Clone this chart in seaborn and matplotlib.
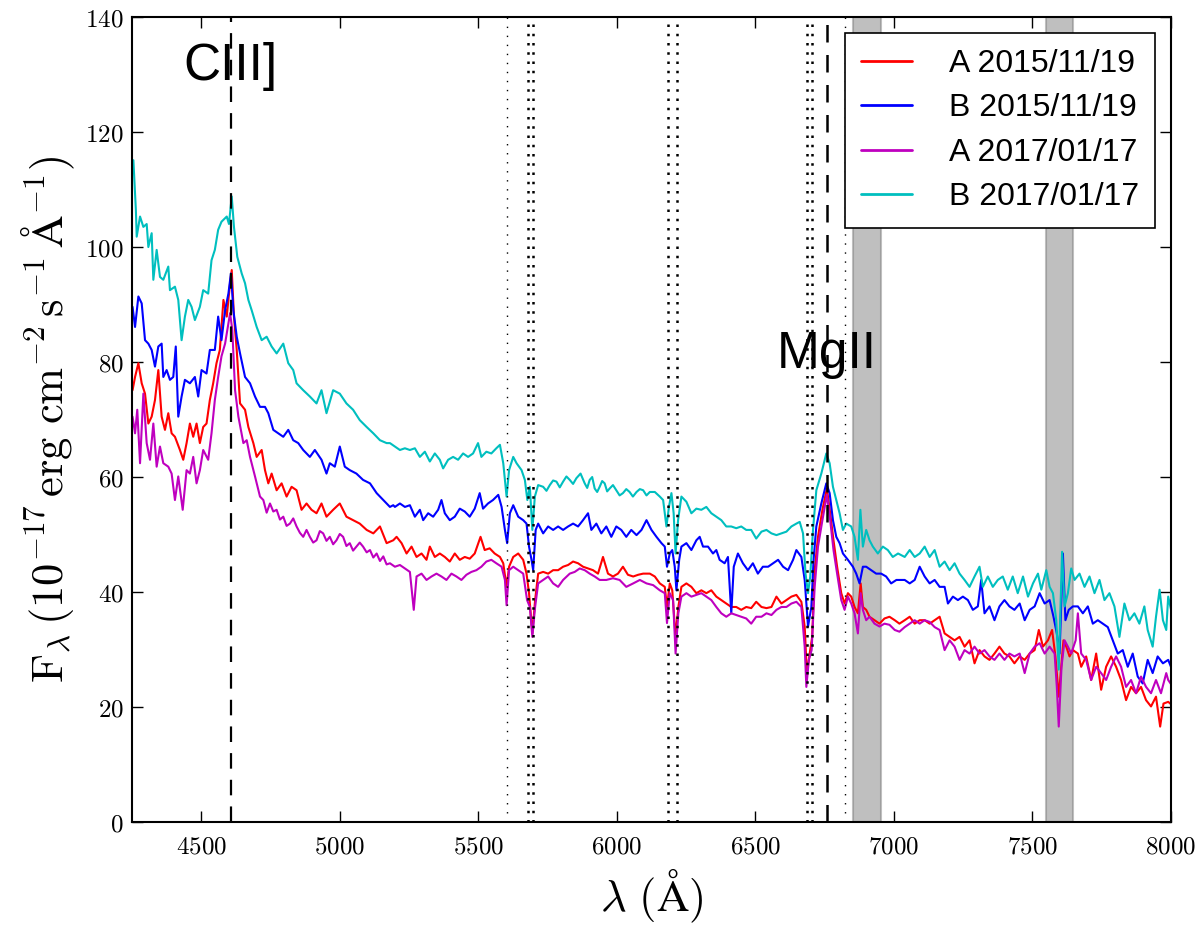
import numpy as np
import pandas as pd
import matplotlib
matplotlib.use('Agg')
import matplotlib.pyplot as plt
import seaborn as sns

sns.set_style('ticks')
plt.rcParams['font.family'] = ['Liberation Sans', 'DejaVu Sans']
plt.rcParams['mathtext.fontset'] = 'cm'
plt.rcParams['text.color'] = 'k'
plt.rcParams['axes.labelcolor'] = 'k'
plt.rcParams['xtick.color'] = 'k'
plt.rcParams['ytick.color'] = 'k'

# ---------------- data ----------------
wave_A15 = [4252, 4261, 4273, 4285, 4297, 4309, 4321, 4333, 4345, 4357, 4369, 4381, 4393, 4405, 4423, 4435, 4447, 4459, 4471, 4483,
            4495, 4507, 4519, 4531, 4543, 4555, 4567, 4580, 4592, 4604, 4610, 4618, 4628, 4640, 4658, 4670, 4688, 4700, 4718, 4730,
            4742, 4754, 4772, 4790, 4808, 4826, 4844, 4862, 4880, 4898, 4916, 4934, 4952, 4976, 5000, 5024, 5048, 5072, 5097, 5121,
            5145, 5169, 5193,
            5205, 5223, 5241, 5259, 5277, 5295, 5313, 5325, 5343, 5361, 5379, 5397, 5415, 5433, 5451, 5469, 5487, 5508, 5523, 5541,
            5559, 5578, 5590, 5602, 5611, 5626, 5644, 5662, 5674, 5683, 5695, 5705, 5716, 5734, 5752, 5770, 5788, 5806, 5824, 5842,
            5860, 5878, 5896, 5914, 5932, 5950, 5968, 5986, 6004, 6022, 6040, 6059, 6077, 6095, 6119,
            6137, 6155, 6173, 6181, 6191, 6200, 6212, 6222, 6233, 6251, 6269, 6287, 6305, 6323, 6341, 6359, 6377, 6395, 6413, 6431,
            6449, 6467, 6485, 6503, 6522, 6540, 6558, 6576, 6594, 6612, 6630, 6648, 6666, 6678, 6686, 6696, 6705, 6714, 6726, 6742,
            6758, 6770, 6782, 6795, 6810, 6822, 6834, 6846, 6858, 6870, 6880, 6888, 6900, 6912, 6930, 6948, 6966, 6984, 7003, 7020,
            7039, 7057, 7075, 7093, 7111, 7129, 7147, 7165, 7183, 7201, 7219, 7237, 7255, 7273, 7291, 7309, 7327, 7345, 7363, 7381,
            7399, 7417, 7435, 7454, 7472, 7490, 7508, 7523, 7538, 7556, 7571, 7583, 7595, 7604, 7612, 7622, 7634, 7646, 7664, 7676,
            7694, 7712, 7730, 7748, 7766, 7784, 7802, 7820, 7838, 7856, 7874, 7892, 7910, 7928, 7946, 7961, 7973, 7990, 8000]
flux_A15 = [75.1, 77.4, 79.8, 76.3, 74.5, 69.3, 70.5, 73.4, 78.6, 70.5, 68.2, 71.1, 67.6, 67.0, 64.7, 63.0, 65.9, 69.3, 67.0, 69.3,
            65.9, 68.7, 69.3, 73.4, 76.3, 79.8, 82.1, 90.8, 87.9, 93.7, 96.0, 87.9, 82.1, 72.8, 71.7, 68.7, 65.9, 63.5, 64.7, 61.2,
            58.9, 60.6, 57.7, 58.9, 56.6, 58.3, 57.7, 54.3, 55.4, 54.3, 53.7, 55.4, 53.1, 54.3, 55.4, 53.1, 52.5, 51.9, 50.8, 50.2,
            51.4, 48.5, 49.0,
            49.6, 48.5, 46.7, 47.9, 46.1, 46.7, 45.6, 47.9, 46.1, 46.7, 46.1, 45.3, 46.7, 45.6, 46.1, 45.8, 46.7, 49.6, 47.3, 47.6,
            46.7, 46.1, 45.0, 40.9, 44.4, 46.1, 46.7, 45.6, 43.2, 39.8, 32.8, 38.6, 43.2, 43.5, 43.2, 43.8, 43.8, 44.4, 44.7, 45.3,
            45.0, 44.4, 44.1, 43.8, 43.2, 46.1, 43.2, 42.7, 43.2, 44.4, 43.0, 42.7, 43.0, 43.2, 43.2,
            42.7, 41.5, 40.9, 37.4, 41.5, 40.3, 32.2, 37.4, 40.9, 41.5, 40.9, 39.8, 40.3, 39.8, 40.3, 39.2, 38.6, 38.0, 37.4, 37.4,
            36.9, 37.4, 37.2, 38.3, 37.4, 37.2, 37.4, 39.2, 38.0, 38.6, 39.2, 39.5, 38.3, 34.0, 25.8, 29.3, 32.2, 43.8, 49.6, 54.3,
            58.0, 53.7, 49.0, 44.4, 39.8, 38.0, 39.8, 39.2, 37.4, 36.3, 41.5, 37.4, 36.9, 35.7, 35.1, 34.5, 35.4, 35.7, 35.1, 34.5,
            35.1, 35.7, 34.5, 35.1, 35.1, 34.5, 35.1, 35.7, 32.8, 32.2, 31.6, 32.2, 30.5, 31.6, 27.6, 29.9, 28.8, 28.2, 29.3, 30.5,
            29.3, 28.8, 27.6, 28.8, 28.2, 29.3, 29.9, 33.4, 30.5, 31.6, 33.4, 28.8, 21.8, 27.0, 31.6, 30.5, 28.8, 29.9, 29.3, 27.0,
            28.8, 24.7, 29.3, 23.0, 27.0, 28.8, 27.0, 24.7, 21.2, 23.5, 22.4, 23.5, 21.2, 20.1, 21.8, 16.6, 20.6, 20.9, 20.5]

wave_B15 = [4252, 4261, 4273, 4285, 4297, 4309, 4321, 4333, 4345, 4357, 4363, 4375, 4387, 4399, 4408, 4417, 4429, 4441, 4459, 4477,
            4489, 4501, 4519, 4531, 4549, 4561, 4573, 4586, 4598, 4607, 4616, 4628, 4640, 4658, 4676, 4694, 4712, 4730, 4742, 4760,
            4778, 4796, 4814, 4832, 4850, 4868, 4892, 4910, 4934, 4952, 4964, 4982, 5000, 5018, 5036, 5060, 5084, 5109, 5133, 5157,
            5181, 5193,
            5199, 5217, 5235, 5253, 5271, 5289, 5301, 5319, 5337, 5355, 5367, 5379, 5397, 5415, 5433, 5451, 5469, 5487, 5505, 5517,
            5535, 5553, 5572, 5584, 5596, 5604, 5614, 5626, 5644, 5662, 5674, 5683, 5692, 5698, 5707, 5716, 5734, 5752, 5770, 5788,
            5806, 5824, 5842, 5860, 5878, 5896, 5908, 5926, 5944, 5962, 5980, 5998, 6016, 6034, 6052, 6071, 6089, 6107, 6125,
            6143, 6161, 6173, 6181, 6191, 6200, 6209, 6215, 6225, 6233, 6251, 6269, 6287, 6299, 6311, 6329, 6347, 6359, 6371, 6389,
            6401, 6413, 6422, 6437, 6455, 6473, 6491, 6509, 6527, 6546, 6564, 6582, 6600, 6618, 6636, 6648, 6666, 6678, 6690, 6702,
            6710, 6720, 6738, 6756, 6768, 6780, 6792, 6804, 6816, 6834, 6852, 6864, 6876, 6888, 6900, 6918, 6936, 6954, 6972, 6990,
            7009,
            7039, 7057, 7075, 7093, 7111, 7129, 7147, 7165, 7183, 7195, 7213, 7231, 7249, 7267, 7285, 7303, 7315, 7327, 7345, 7363,
            7381, 7399, 7417, 7435, 7454, 7472, 7490, 7508, 7526, 7544, 7562, 7576, 7588, 7598, 7610, 7619, 7631, 7646, 7664, 7682,
            7700, 7718, 7736, 7754, 7772, 7790, 7808, 7826, 7844, 7862, 7880, 7898, 7916, 7934, 7952, 7971, 7990, 8000]
flux_B15 = [89.6, 86.1, 91.4, 90.2, 83.8, 83.2, 82.1, 79.2, 82.7, 83.2, 77.4, 78.6, 76.9, 77.4, 82.7, 70.5, 74.0, 76.9, 76.3, 77.4,
            74.0, 78.6, 78.0, 82.1, 82.1, 87.9, 83.8, 89.0, 91.9, 95.4, 89.0, 84.4, 81.5, 77.4, 76.3, 74.0, 72.2, 72.2, 71.1, 68.2,
            67.6, 67.0, 68.2, 66.4, 65.9, 64.7, 63.5, 64.7, 63.0, 60.6, 62.4, 61.8, 65.3, 61.8, 61.2, 60.6, 59.5, 58.9, 57.2, 56.0,
            54.8, 55.1,
            54.8, 55.4, 54.8, 55.1, 53.1, 54.3, 52.5, 53.7, 53.1, 54.3, 56.0, 53.7, 52.5, 53.1, 54.5, 54.0, 53.1, 54.5, 57.2, 54.5,
            55.4, 56.0, 56.9, 54.8, 50.8, 48.5, 53.7, 55.1, 53.1, 52.5, 51.9, 47.9, 45.6, 43.8, 50.8, 51.9, 50.2, 51.4, 50.8, 51.4,
            50.8, 51.4, 51.9, 51.4, 52.5, 53.7, 50.8, 51.9, 50.2, 51.4, 49.6, 51.4, 50.8, 49.6, 50.8, 49.9, 50.8, 52.5, 50.8,
            49.6, 48.5, 47.9, 44.4, 46.7, 47.3, 44.4, 40.3, 45.6, 47.9, 48.5, 47.3, 49.0, 49.6, 47.9, 47.9, 46.7, 47.3, 45.6, 45.0,
            46.1, 36.3, 44.4, 46.7, 45.0, 43.8, 45.0, 43.2, 44.4, 44.4, 45.0, 45.6, 44.4, 43.8, 45.6, 47.3, 46.1, 42.1, 34.0, 37.4,
            45.6, 51.4, 55.4, 58.9, 57.2, 52.5, 49.6, 48.5, 46.7, 45.6, 44.4, 43.2, 41.5, 44.4, 44.4, 43.8, 43.2, 43.2, 42.7, 41.5,
            42.1,
            42.1, 41.5, 42.1, 44.4, 42.7, 41.5, 42.1, 40.9, 40.9, 38.0, 39.2, 38.6, 39.2, 38.6, 36.9, 37.5, 42.1, 36.3, 37.5, 35.1,
            37.5, 38.6, 37.5, 36.9, 38.0, 35.1, 36.9, 37.5, 39.8, 38.0, 38.6, 35.7, 32.8, 29.3, 46.7, 35.1, 36.9, 37.5, 37.5, 36.3,
            37.5, 34.5, 35.1, 34.5, 33.9, 31.6, 29.3, 29.9, 27.0, 29.3, 25.3, 24.1, 28.2, 25.9, 28.8, 27.6, 28.2, 27.0]

wave_A17 = [4252, 4261, 4269, 4279, 4291, 4303, 4315, 4327, 4339, 4351, 4363, 4381, 4393, 4405, 4417, 4433, 4447, 4459, 4471, 4483,
            4495, 4507, 4525, 4537, 4549, 4561, 4573, 4586, 4598, 4604, 4612, 4622, 4634, 4652, 4664, 4676, 4694, 4712, 4724,
            4736, 4748, 4760, 4772, 4784, 4796, 4808, 4820, 4832, 4844, 4856, 4868, 4880, 4892, 4904, 4916, 4928, 4940, 4952, 4964,
            4976, 4988, 5000, 5012, 5024, 5036, 5048, 5060, 5072, 5084, 5097, 5109, 5121, 5133, 5145, 5157, 5169, 5181,
            5199, 5217, 5235, 5253, 5267, 5277, 5295, 5313, 5331, 5349, 5367, 5385, 5403, 5421, 5439, 5457, 5475, 5493, 5511, 5529,
            5547, 5565, 5584, 5596, 5602, 5611, 5626, 5644, 5662, 5676, 5686, 5695, 5705, 5716, 5734, 5752, 5770, 5788, 5806, 5830,
            5848, 5866, 5884, 5902, 5920, 5938, 5962, 5986, 6010, 6034, 6059, 6083, 6107, 6131,
            6155, 6173, 6181, 6191, 6203, 6212, 6222, 6233, 6251, 6269, 6287, 6305, 6323, 6341, 6359, 6377, 6395, 6413, 6431, 6449,
            6467, 6485, 6503, 6522, 6540, 6558, 6576, 6594, 6612, 6630, 6648, 6666, 6678, 6684, 6693, 6703, 6714, 6726, 6742, 6758,
            6770, 6782, 6795, 6810, 6822, 6834, 6846, 6858, 6870, 6880, 6888, 6900, 6912, 6930, 6948, 6966, 6984, 7003, 7020,
            7039, 7057, 7075, 7093, 7111, 7129, 7147, 7165, 7183, 7201, 7219, 7237, 7255, 7273, 7291, 7309, 7327, 7345, 7363, 7381,
            7399, 7417, 7435, 7454, 7472, 7490, 7508, 7526, 7544, 7562, 7580, 7588, 7595, 7605, 7616, 7628, 7640, 7656, 7664, 7676,
            7694, 7712, 7730, 7748, 7766, 7784, 7802, 7820, 7838, 7856, 7874, 7892, 7910, 7928, 7946, 7964, 7983, 7990, 8000]
flux_A17 = [70.5, 67.6, 71.7, 62.4, 74.5, 65.9, 63.0, 69.3, 61.8, 65.3, 62.4, 61.8, 60.6, 56.0, 60.1, 54.3, 61.2, 60.6, 63.5, 58.9,
            61.2, 64.7, 63.0, 67.6, 73.4, 77.4, 81.0, 83.2, 86.7, 88.5, 85.6, 75.1, 70.5, 65.9, 66.4, 63.5, 60.1, 56.6, 56.0,
            53.8, 55.4, 54.0, 54.3, 52.6, 53.1, 51.5, 51.9, 52.8, 51.4, 50.3, 49.6, 50.8, 49.6, 48.6, 49.0, 50.6, 50.2, 48.9, 49.6,
            48.3, 49.0, 50.1, 49.6, 48.0, 48.5, 47.2, 47.9, 48.6, 47.9, 46.9, 47.3, 46.0, 46.7, 45.4, 46.2, 44.8, 45.0,
            44.4, 44.7, 44.1, 43.5, 36.9, 42.7, 43.2, 42.1, 42.7, 43.2, 42.7, 42.1, 43.2, 42.7, 42.1, 43.0, 43.5, 43.8, 44.4, 45.3,
            45.6, 45.0, 44.4, 42.1, 37.7, 43.8, 44.4, 43.8, 43.2, 38.6, 37.4, 32.2, 37.4, 41.5, 42.1, 42.7, 41.5, 40.9, 42.1, 43.2,
            43.5, 44.1, 43.8, 43.2, 42.7, 42.1, 42.1, 42.4, 42.1, 40.9, 41.5, 42.1, 41.5, 41.2,
            40.3, 39.8, 34.6, 39.8, 38.6, 29.3, 36.3, 39.2, 39.8, 39.2, 39.5, 39.8, 39.2, 38.6, 37.4, 36.3, 35.7, 36.3, 36.0, 35.7,
            35.4, 34.5, 35.7, 35.7, 36.3, 36.0, 36.9, 37.4, 37.4, 38.0, 38.3, 37.4, 30.5, 23.5, 28.2, 29.9, 40.9, 47.9, 52.5, 56.9,
            52.5, 47.3, 43.2, 38.6, 36.9, 39.2, 38.0, 36.3, 32.8, 39.8, 36.9, 35.1, 35.7, 34.5, 34.0, 34.5, 34.3, 33.4, 33.1,
            33.9, 34.5, 35.1, 34.5, 35.1, 34.8, 33.9, 33.4, 29.9, 31.6, 30.5, 28.2, 29.9, 29.3, 30.5, 29.3, 29.9, 28.8, 28.2, 29.3,
            28.2, 29.3, 28.8, 29.3, 25.9, 29.3, 30.5, 31.1, 29.3, 30.5, 29.3, 23.5, 16.6, 27.0, 31.6, 30.5, 29.3, 31.6, 36.3, 29.3,
            28.2, 24.7, 27.0, 25.9, 24.7, 27.0, 28.8, 27.0, 23.5, 24.7, 22.4, 25.3, 23.5, 22.4, 24.7, 22.4, 25.9, 24.7, 24.0]

wave_B17 = [4255, 4264, 4267, 4279, 4291, 4303, 4309, 4321, 4327, 4339, 4351, 4363, 4381, 4387, 4405, 4417, 4429, 4441, 4453, 4465,
            4477, 4495, 4507, 4525, 4537, 4549, 4561, 4573, 4592, 4600, 4610, 4618, 4630, 4646, 4658, 4670, 4682, 4700, 4718, 4736,
            4754, 4772, 4796, 4814, 4832, 4844, 4868, 4892, 4916, 4934, 4952, 4976, 5000, 5024, 5048, 5072, 5097, 5121, 5145, 5169,
            5181, 5199, 5217, 5235, 5253, 5271, 5289, 5307, 5325, 5343, 5361, 5373, 5391, 5409, 5427, 5445, 5463, 5481, 5499, 5511,
            5529, 5547, 5565, 5578, 5590, 5602, 5611, 5626, 5638, 5656, 5668, 5677, 5686, 5695, 5704, 5716, 5734, 5746, 5758, 5770,
            5782, 5794, 5806, 5818, 5830, 5842, 5854, 5869, 5884, 5893, 5902, 5911, 5920, 5929, 5938, 5947, 5956, 5965, 5974, 5986,
            5998, 6010, 6022, 6034, 6046, 6058, 6071, 6083, 6095, 6107, 6119,
            6137, 6155, 6167, 6179, 6188, 6197, 6205, 6212, 6221, 6233, 6251, 6269, 6287, 6305, 6323, 6341, 6359, 6377, 6395, 6413,
            6431, 6449, 6467, 6485, 6503, 6522, 6540, 6558, 6576, 6594, 6612, 6630, 6648, 6660, 6672, 6681, 6690, 6698, 6708, 6720,
            6738, 6756, 6768, 6780, 6792, 6804, 6816, 6828, 6846, 6858, 6870, 6879, 6888, 6900, 6912, 6924, 6942, 6960, 6978, 6996,
            7015,
            7039, 7057, 7075, 7093, 7111, 7129, 7147, 7165, 7183, 7201, 7219, 7237, 7255, 7273, 7291, 7309, 7321, 7339, 7357, 7375,
            7393, 7411, 7429, 7447, 7466, 7484, 7502, 7520, 7532, 7550, 7562, 7574, 7586, 7595, 7607, 7616, 7628, 7640, 7652, 7670,
            7688, 7706, 7724, 7742, 7760, 7778, 7796, 7814, 7832, 7850, 7868, 7886, 7904, 7916, 7934, 7946, 7959, 7971, 7983, 7990,
            8000]
flux_B17 = [115.1, 106.4, 101.8, 105.3, 103.5, 104.0, 100.0, 102.4, 94.3, 99.5, 94.8, 94.3, 96.6, 92.5, 93.1, 90.8, 83.8, 87.9, 90.8, 89.6,
            87.3, 89.6, 92.5, 91.9, 97.7, 99.5, 103.0, 104.4, 105.3, 104.0, 108.8, 103.5, 98.3, 95.4, 93.7, 90.8, 89.0, 86.1, 83.8, 84.4,
            82.7, 81.5, 83.2, 79.8, 78.6, 76.3, 75.1, 74.0, 72.8, 75.1, 71.1, 75.1, 74.5, 72.8, 71.7, 69.9, 68.7, 67.6, 66.4, 65.9,
            65.9, 65.3, 64.7, 65.0, 64.7, 65.0, 63.5, 64.4, 62.7, 64.1, 63.0, 61.5, 63.0, 63.5, 63.0, 64.1, 63.5, 64.1, 65.9, 63.5,
            64.4, 64.1, 65.0, 65.6, 62.4, 56.6, 61.2, 63.5, 62.4, 61.2, 59.5, 56.0, 58.3, 50.8, 56.6, 58.6, 58.3, 57.6, 58.6, 59.4,
            59.2, 58.2, 59.2, 60.1, 59.5, 58.8, 59.8, 60.6, 58.9, 58.1, 59.5, 60.0, 58.0, 57.4, 58.3, 59.3, 58.9, 57.5, 58.0, 58.6,
            57.7, 56.8, 57.2, 57.9, 57.4, 56.6, 57.4, 57.9, 57.7, 56.8, 57.4,
            57.4, 56.6, 56.0, 51.4, 54.8, 57.2, 53.7, 46.7, 52.5, 56.6, 55.7, 53.7, 54.5, 54.3, 54.8, 53.7, 53.1, 52.5, 51.4, 51.4,
            51.1, 51.4, 50.8, 50.8, 49.3, 50.5, 50.8, 50.2, 49.9, 50.2, 50.5, 51.4, 51.9, 52.2, 50.2, 43.2, 39.8, 42.7, 50.8, 57.7,
            60.6, 64.1, 62.4, 58.3, 56.0, 53.7, 50.8, 51.9, 51.4, 49.6, 45.6, 54.3, 47.9, 50.8, 49.0, 47.9, 46.7, 47.9, 47.3, 46.1,
            46.7,
            46.1, 47.3, 46.1, 46.7, 47.9, 46.1, 47.3, 44.4, 45.3, 43.8, 45.0, 43.2, 42.1, 40.9, 42.7, 44.4, 40.9, 42.7, 40.9, 42.1,
            42.7, 40.4, 42.7, 39.8, 42.7, 39.2, 41.5, 43.2, 40.4, 43.8, 40.9, 39.8, 35.1, 26.5, 47.0, 37.5, 39.8, 44.1, 42.1, 43.2,
            40.9, 42.7, 39.8, 42.1, 38.6, 39.8, 37.5, 32.2, 38.0, 35.1, 36.3, 34.5, 37.5, 33.4, 30.5, 35.7, 40.4, 35.1, 33.4, 39.2,
            37.0]

series_labels = ['A 2015/11/19', 'B 2015/11/19', 'A 2017/01/17', 'B 2017/01/17']
series_colors = ['#ff0000', '#0000ff', '#bf00bf', '#00bfbf']

line_ciii = 4607          # C III] emission line
line_mgii = 6758          # Mg II emission line
abs_thin = [5604, 6822]
abs_bold = [5680, 5698, 6185, 6217, 6686, 6704]
telluric = [(6852, 6952), (7550, 7648)]

xticks = [4500, 5000, 5500, 6000, 6500, 7000, 7500, 8000]
yticks = [0, 20, 40, 60, 80, 100, 120, 140]

# ---------------- figure ----------------
fig = plt.figure(figsize=(12, 9.3), dpi=100)
ax = fig.add_axes([0.11, 0.1161, 0.8658, 0.8656])

for a, b in telluric:
    ax.axvspan(a, b, facecolor='0.5', edgecolor='0.5', alpha=0.5, lw=1.5, zorder=1)

waves = [wave_A15, wave_B15, wave_A17, wave_B17]
fluxes = [flux_A15, flux_B15, flux_A17, flux_B17]
for w, f, lab, col in zip(waves, fluxes, series_labels, series_colors):
    df = pd.DataFrame({'wave': w, 'flux': f})
    sns.lineplot(data=df, x='wave', y='flux', color=col, lw=1.5, label=lab,
                 ax=ax, sort=False, estimator=None, zorder=2)

ax.axvline(line_ciii, color='k', lw=1.6, ls=(0, (7, 5)), zorder=3)
ax.axvline(line_mgii, color='k', lw=1.8, ls=(0, (7, 5)), zorder=3)
for x in abs_thin:
    ax.axvline(x, color='k', lw=1.0, ls=(0, (1, 5.5)), zorder=3)
for x in abs_bold:
    ax.axvline(x, color='k', lw=1.8, ls=(0, (1, 2.7)), zorder=3)

ax.text(line_ciii, 129, 'CIII]', fontsize=37, ha='center', va='baseline', color='k',
        family=['Liberation Sans', 'DejaVu Sans'], zorder=4)
ax.text(line_mgii, 79, 'MgII', fontsize=37, ha='center', va='baseline', color='k',
        family=['Liberation Sans', 'DejaVu Sans'], zorder=4)

ax.set_xlim(4250, 8000)
ax.set_ylim(0, 140)
ax.set_xticks(xticks)
ax.set_xticklabels([f'${v}$' for v in xticks])
ax.set_yticks(yticks)
ax.set_yticklabels([f'${v}$' for v in yticks])
ax.tick_params(direction='in', length=8, width=1, top=True, right=True,
               labelsize=18, colors='k')
ax.tick_params(axis='x', pad=9)
ax.tick_params(axis='y', pad=6)
for s in ax.spines.values():
    s.set_linewidth(1.5)
    s.set_color('k')
    s.set_visible(True)

ax.set_xlabel(r'$\lambda\ (\mathrm{Å})$', fontsize=32, labelpad=6, color='k')
ax.set_ylabel(r'$\mathrm{F}_\lambda\,(10^{-17}\,\mathrm{erg\ cm}^{-2}\,\mathrm{s}^{-1}\,\mathrm{Å}^{-1})$',
              fontsize=32, labelpad=6, color='k')

leg = ax.legend(loc='upper right', fontsize=23, frameon=True, fancybox=False,
                edgecolor='k', framealpha=1, handlelength=1.6, handletextpad=1.15,
                borderpad=0.5, labelspacing=0.45, borderaxespad=0.5)
leg.get_frame().set_linewidth(1.2)
for t in leg.get_texts():
    t.set_color('k')
for h in leg.get_lines():
    h.set_linewidth(2.0)

fig.savefig('out.png', dpi=100)
